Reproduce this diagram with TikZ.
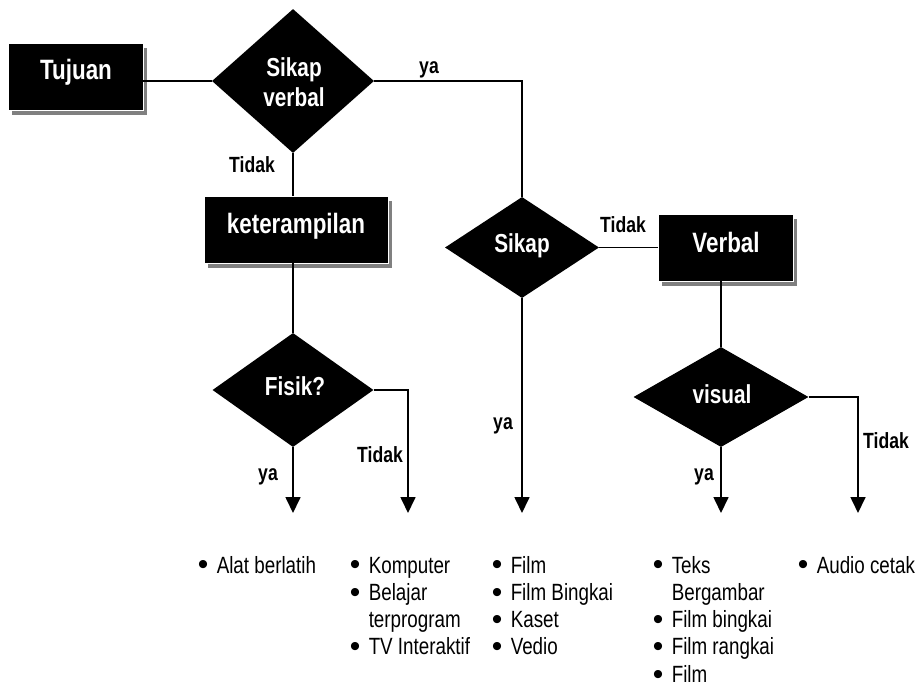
\documentclass[tikz,border=0pt]{standalone}
\usepackage{fontspec}
\usetikzlibrary{arrows.meta,shapes.geometric,shadows}
\newfontfamily\nf{Liberation Sans}[FakeStretch=0.8]
\newfontfamily\bltfont{Liberation Sans}
\tikzset{
  boxnode/.style={draw=white, line width=0.8pt, fill=black, inner sep=0pt,
    drop shadow={shadow xshift=4pt, shadow yshift=-5pt, fill=black!50, opacity=1}},
  dia/.style={diamond, fill=black, draw=none, inner sep=0pt},
  boxtext/.style={text=white, font=\nf\bfseries\fontsize{28pt}{32pt}\selectfont, inner sep=0pt, anchor=base},
  diatext/.style={text=white, font=\nf\bfseries\fontsize{26pt}{30pt}\selectfont, inner sep=0pt, anchor=base},
  lbl/.style={font=\nf\bfseries\fontsize{22pt}{25pt}\selectfont, inner sep=0pt, anchor=base},
  lst/.style={font=\nf\fontsize{23.5pt}{27.3pt}\selectfont, inner sep=0pt, anchor=base west},
  conn/.style={line width=1.7pt},
  arr/.style={conn, -{Triangle[length=16pt,width=15pt]}}
}
\newcommand{\blt}{\raisebox{-1.8pt}{\bltfont\fontsize{30pt}{30pt}\selectfont\textbullet}}
\begin{document}
\begin{tikzpicture}[x=1pt,y=-1pt]
\useasboundingbox (0,0) rectangle (920,687);

% boxes
\node[boxnode, minimum width=135pt, minimum height=67pt] (b1) at (75.5,76.5) {};
\node[boxnode, minimum width=184pt, minimum height=67pt] (b2) at (296,229.5) {};
\node[boxnode, minimum width=135pt, minimum height=67pt] (b3) at (725.5,247.5) {};

% diamonds
\node[dia, minimum width=162pt, minimum height=144pt] (d1) at (293,81) {};
\node[dia, minimum width=154pt, minimum height=101pt] (d2) at (522,247.5) {};
\node[dia, minimum width=161pt, minimum height=114pt] (d3) at (293,390) {};
\node[dia, minimum width=175pt, minimum height=100pt] (d4) at (721,397) {};

% texts in shapes
\node[boxtext] (t1) at (76,80) {Tujuan};
\node[boxtext] (t2) at (296,233) {keterampilan};
\node[boxtext] (t3) at (726,252) {Verbal};
\node[diatext] (t4a) at (294,77) {Sikap};
\node[diatext] (t4b) at (294,107) {verbal};
\node[diatext] (t5) at (522,252) {Sikap};
\node[diatext] (t6) at (295,395) {Fisik?};
\node[diatext] (t7) at (722,403) {visual};

% end points of arrows
\coordinate (e1) at (293,513);
\coordinate (e2) at (408,513);
\coordinate (e3) at (522,513);
\coordinate (e4) at (721,513);
\coordinate (e5) at (858,513);

% connectors
\draw[conn] (b1.east |- d1.west) -- (d1.west);
\draw[conn] (d1.east) -| (d2.north);
\draw[conn] (d1.south) -- (d1.south |- b2.north);
\draw[conn] (d3.north |- b2.south) -- (d3.north);
\draw[conn] (d2.east) -- (b3.west);
\draw[conn] (d4.north |- b3.south) -- (d4.north);
\draw[arr] (d3.south) -- (e1);
\draw[arr] (d3.east) -| (e2);
\draw[arr] (d2.south) -- (e3);
\draw[arr] (d4.south) -- (e4);
\draw[arr] (d4.east) -| (e5);

% labels
\node[lbl] (l1) at (429,74) {ya};
\node[lbl] (l2) at (252,173) {Tidak};
\node[lbl] (l3) at (623,232) {Tidak};
\node[lbl] (l4) at (503,429) {ya};
\node[lbl] (l5) at (380,462) {Tidak};
\node[lbl] (l6) at (268,480) {ya};
\node[lbl] (l7) at (886,448) {Tidak};
\node[lbl] (l8) at (704,480) {ya};

% lists
\node[lst] (c1) at (197.75,573) {\begin{tabular}[t]{@{}c@{\hspace{8.3pt}}l@{}}\blt & Alat berlatih\end{tabular}};
\node[lst] (c2) at (349.75,573) {\begin{tabular}[t]{@{}c@{\hspace{8.3pt}}l@{}}\blt & Komputer\\ \blt & Belajar\\ & terprogram\\ \blt & TV Interaktif\end{tabular}};
\node[lst] (c3) at (491.75,573) {\begin{tabular}[t]{@{}c@{\hspace{8.3pt}}l@{}}\blt & Film\\ \blt & Film Bingkai\\ \blt & Kaset\\ \blt & Vedio\end{tabular}};
\node[lst] (c4) at (652.75,573) {\begin{tabular}[t]{@{}c@{\hspace{8.3pt}}l@{}}\blt & Teks\\ & Bergambar\\ \blt & Film bingkai\\ \blt & Film rangkai\\ \blt & Film\end{tabular}};
\node[lst] (c5) at (797.75,573) {\begin{tabular}[t]{@{}c@{\hspace{8.3pt}}l@{}}\blt & Audio cetak\end{tabular}};
\end{tikzpicture}
\end{document}
